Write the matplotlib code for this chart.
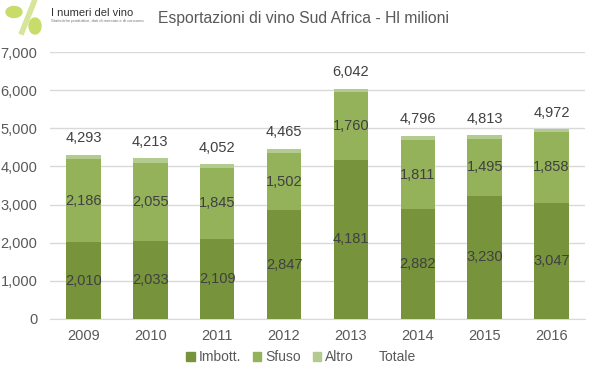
import matplotlib
matplotlib.use("Agg")
import matplotlib.pyplot as plt
from matplotlib.patches import Patch, Ellipse
import numpy as np

years = ["2009", "2010", "2011", "2012", "2013", "2014", "2015", "2016"]
imbott = [2010, 2033, 2109, 2847, 4181, 2882, 3230, 3047]
sfuso = [2186, 2055, 1845, 1502, 1760, 1811, 1495, 1858]
totale = [4293, 4213, 4052, 4465, 6042, 4796, 4813, 4972]
altro = [t - a - b for t, a, b in zip(totale, imbott, sfuso)]
yticks = [0, 1000, 2000, 3000, 4000, 5000, 6000, 7000]

c_imb = "#77933C"
c_sfu = "#93B25A"
c_alt = "#B3CB8E"
txt = "#404040"
tick = "#595959"

plt.rcParams['font.family'] = ['Liberation Sans', 'DejaVu Sans']

fig = plt.figure(figsize=(5.99, 3.78), dpi=100)
ax = fig.add_axes([50/599, 1-319/378, 535/599, (319-52)/378])
x = np.arange(len(years))
w = 0.515
ax.bar(x, imbott, w, color=c_imb, zorder=3)
ax.bar(x, sfuso, w, bottom=imbott, color=c_sfu, zorder=3)
bot2 = [a + b for a, b in zip(imbott, sfuso)]
ax.bar(x, altro, w, bottom=bot2, color=c_alt, zorder=3)

for i in range(len(years)):
    ax.text(x[i], imbott[i]/2, f"{imbott[i]:,}", ha="center", va="center", fontsize=10.5, color=txt, zorder=4)
    ax.text(x[i], imbott[i] + sfuso[i]/2, f"{sfuso[i]:,}", ha="center", va="center", fontsize=10.5, color=txt, zorder=4)
    ax.text(x[i], totale[i] + 440, f"{totale[i]:,}", ha="center", va="center", fontsize=10.5, color=txt, zorder=4)

ax.set_xlim(-0.5, len(years) - 0.5)
ax.set_ylim(0, 7000)
ax.set_yticks(yticks)
ax.set_yticklabels([f"{v:,}" for v in yticks])
ax.set_xticks(x)
ax.set_xticklabels(years)
ax.tick_params(axis="both", length=0, labelsize=10.5, colors=tick)
ax.tick_params(axis="y", pad=9)
ax.tick_params(axis="x", pad=7)
ax.grid(axis="y", color="#D9D9D9", linewidth=1, zorder=0)
for s in ["top", "right", "left"]:
    ax.spines[s].set_visible(False)
ax.spines["bottom"].set_color("#D9D9D9")

fig.text(303/599, 1-18/378, "Esportazioni di vino Sud Africa - Hl milioni", ha="center", va="center",
         fontsize=11.3, color=tick)

handles = [Patch(color=c_imb), Patch(color=c_sfu), Patch(color=c_alt), Patch(color="none")]
fig.legend(handles, ["Imbott.", "Sfuso", "Altro", "Totale"], loc="center", bbox_to_anchor=(301/599, 1-357/378),
           ncol=4, frameon=False, fontsize=10, handlelength=0.6, handleheight=0.6, handletextpad=0.3,
           columnspacing=0.85, labelcolor=tick, borderpad=0.2)

# logo
lax = fig.add_axes([0, 1-38/378, 150/599, 38/378])
lax.set_xlim(0, 150); lax.set_ylim(38, 0); lax.axis("off")
lax.add_patch(Ellipse((14, 12), 16, 11, color="#C8DC6A"))
lax.add_patch(Ellipse((35, 26), 12, 16, color="#C8DC6A"))
lax.plot([22, 34], [32, 2], color="#D7E59A", linewidth=4)
lax.text(51, 13, "I numeri del vino", fontsize=8, color="#333333", va="center")
lax.text(51, 21, "Statistiche produttive, dati di mercato e di consumo", fontsize=3, color="#777777", va="center")

fig.savefig("out.png", dpi=100)
